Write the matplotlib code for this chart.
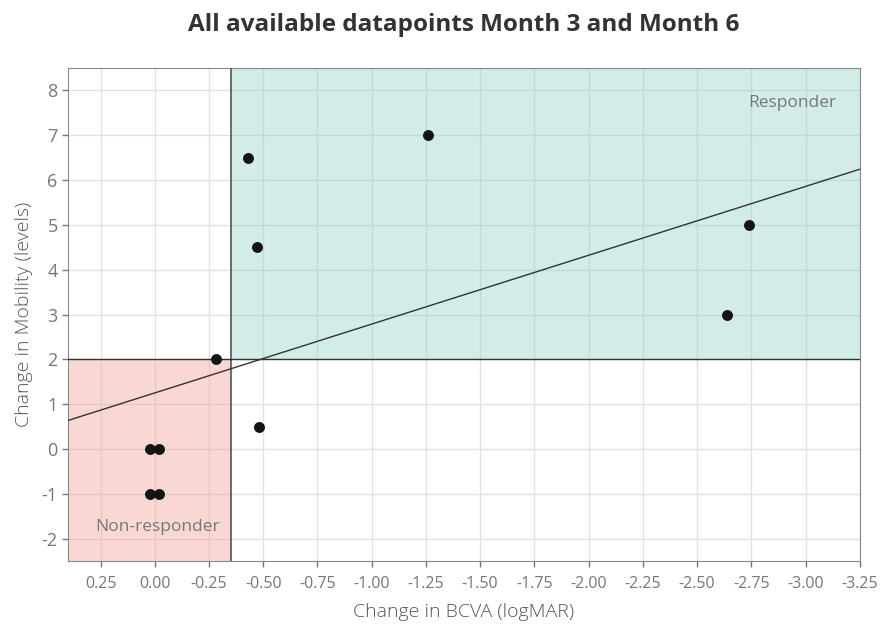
import numpy as np
import matplotlib
matplotlib.use("Agg")
import matplotlib.pyplot as plt

# data
bcva = [-0.28, -0.43, -0.47, -0.48, -1.26, -2.64, -2.74, 0.02, -0.02, 0.02, -0.02]
mobility = [2.0, 6.5, 4.5, 0.5, 7.0, 3.0, 5.0, 0.0, 0.0, -1.0, -1.0]
x_ticks = [0.25, 0.0, -0.25, -0.5, -0.75, -1.0, -1.25, -1.5, -1.75, -2.0, -2.25, -2.5, -2.75, -3.0, -3.25]
y_ticks = [-2, -1, 0, 1, 2, 3, 4, 5, 6, 7, 8]
bcva_cut = -0.35
mobility_cut = 2.0

plt.rcParams['font.family'] = ['Open Sans', 'DejaVu Sans']
plt.rcParams['axes.unicode_minus'] = False

fig = plt.figure(figsize=(8.8, 6.27), dpi=100)
ax = fig.add_axes([0.0773, 0.1053, 0.8997, 0.7862])

xlim = (0.4, -3.25)
ylim = (-2.5, 8.5)
ax.set_xlim(*xlim)
ax.set_ylim(*ylim)

ax.grid(True, color='#e2e2e2', linewidth=1.0, zorder=0)
ax.set_axisbelow(True)

# shaded quadrants
ax.fill_between([bcva_cut, xlim[1]], mobility_cut, ylim[1], color='#8ccfc4', alpha=0.38, linewidth=0, zorder=1)
ax.fill_between([xlim[0], bcva_cut], ylim[0], mobility_cut, color='#f1a39a', alpha=0.42, linewidth=0, zorder=1)

ax.axvline(bcva_cut, color='#555555', linewidth=1.2, zorder=3)
ax.axhline(mobility_cut, color='#333333', linewidth=1.0, zorder=3)

# least squares fit through all points
slope, icpt = np.polyfit(bcva, mobility, 1)
xx = np.array(xlim)
ax.plot(xx, slope * xx + icpt, color='#333333', linewidth=1.0, zorder=4)

ax.scatter(bcva, mobility, s=62, color='#141414', zorder=5, linewidths=0)

ax.text(-2.94, 7.73, 'Responder', color='#777777', fontsize=12.5, ha='center', va='center', zorder=6)
ax.text(-0.015, -1.75, 'Non-responder', color='#777777', fontsize=12.5, ha='center', va='center', zorder=6)

ax.set_xticks(x_ticks)
ax.set_xticklabels(['%.2f' % t for t in x_ticks])
ax.set_yticks(y_ticks)
ax.tick_params(colors='#777777', labelsize=11.5, length=4, width=1)
ax.tick_params(axis='x', pad=7)
ax.tick_params(axis='y', labelsize=13)
for sp in ax.spines.values():
    sp.set_color('#888888')

ax.set_xlabel('Change in BCVA (logMAR)', fontsize=14, color='#555555', labelpad=8, fontweight='light')
ax.set_ylabel('Change in Mobility (levels)', fontsize=14, color='#555555', labelpad=6, fontweight='light')
fig.suptitle('All available datapoints Month 3 and Month 6', fontsize=17.5, fontweight='bold',
             color='#333333', x=0.527, y=0.98)

fig.savefig('out.png', dpi=100)
